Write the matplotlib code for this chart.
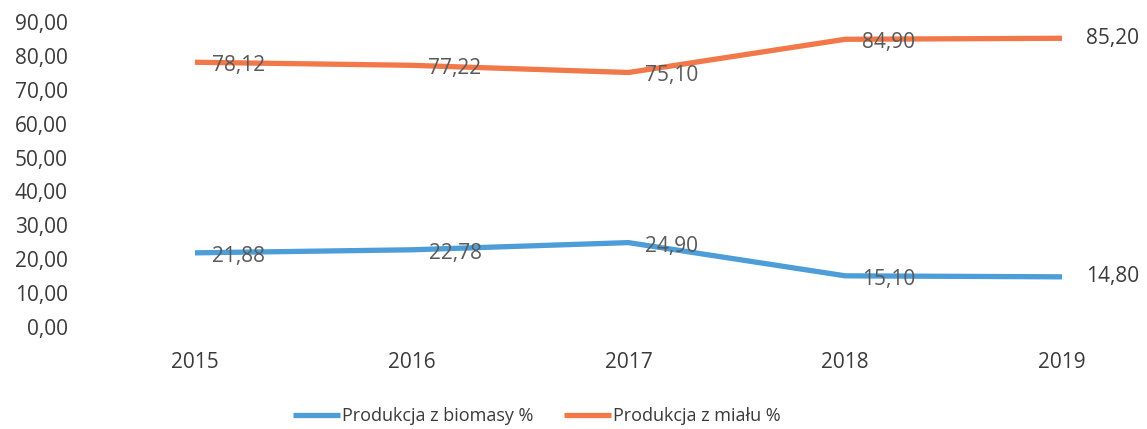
import matplotlib.pyplot as plt

# Data
years = ['2015', '2016', '2017', '2018', '2019']
biomasa = [21.88, 22.78, 24.90, 15.10, 14.80]
mial = [78.12, 77.22, 75.10, 84.90, 85.20]
yticks = [0, 10, 20, 30, 40, 50, 60, 70, 80, 90]

blue = '#4C9DD8'
orange = '#F27849'
textColor = '#3A3A3A'
labelColor = '#595959'

plt.rcParams['font.family'] = ['Open Sans', 'DejaVu Sans']

fig = plt.figure(figsize=(11.47, 4.29), dpi=100)
W, H = 1147, 429
# axes placed so that 0 -> y=327px and 90 -> y=22px
ax = fig.add_axes([90 / W, 1 - 327 / H, (1080 - 90) / W, (327 - 22) / H])

x = list(range(len(years)))
ax.plot(x, biomasa, color=blue, linewidth=3.8, solid_capstyle='butt', solid_joinstyle='round',
        label='Produkcja z biomasy %')
ax.plot(x, mial, color=orange, linewidth=3.8, solid_capstyle='butt', solid_joinstyle='round',
        label='Produkcja z miału %')

def fmt(v):
    return ('%.2f' % v).replace('.', ',')

for series in [biomasa, mial]:
    for i, v in enumerate(series):
        if i == len(series) - 1:
            ax.text(i + 0.11, v, fmt(v), ha='left', va='center', fontsize=15, color=textColor)
        else:
            ax.text(i + 0.2, v - 1.0, fmt(v), ha='center', va='center', fontsize=15, color=labelColor)

ax.set_xlim(-0.484, 4.083)
ax.set_ylim(0, 90)
ax.set_yticks(yticks)
ax.set_yticklabels([fmt(t) for t in yticks])
ax.set_xticks(x)
ax.set_xticklabels(years)
ax.tick_params(axis='both', length=0, labelsize=15, colors=textColor)
ax.tick_params(axis='x', pad=18)
ax.tick_params(axis='y', pad=16)
for s in ax.spines.values():
    s.set_visible(False)

leg = fig.legend(loc='center', bbox_to_anchor=(537 / W, 1 - 416 / H), ncol=2, frameon=False,
                 fontsize=13, handlelength=2.6, handletextpad=0.1, columnspacing=1.7)
for t in leg.get_texts():
    t.set_color(textColor)

fig.savefig('out.png', dpi=100)
